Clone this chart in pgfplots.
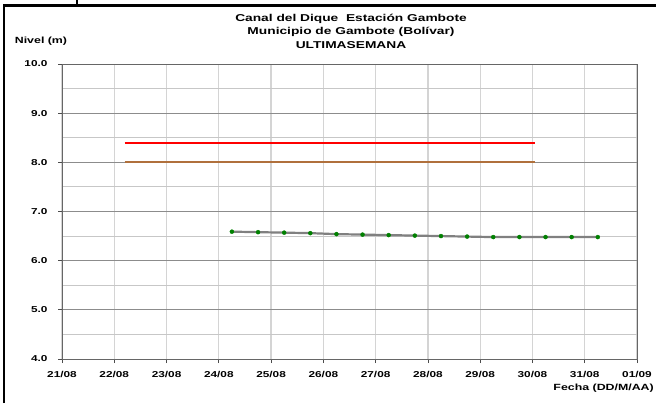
\documentclass[border=0pt]{standalone}
\usepackage{fontspec}
\setmainfont{Liberation Sans}[FakeStretch=1.38]
\usepackage{pgfplots}
\pgfplotsset{compat=1.18}
\definecolor{limitered}{RGB}{255,0,0}
\definecolor{limitebrown}{RGB}{176,112,60}
\definecolor{serie}{RGB}{128,128,128}
\definecolor{punto}{RGB}{0,128,0}
\begin{document}
\begin{tikzpicture}[x=1bp,y=1bp]
\path[use as bounding box] (0,0) rectangle (656,403);
% marco de la figura
\draw[line width=2.5bp] (4,0) -- (4,397.5) -- (656,397.5);
\draw[line width=2bp] (77,397.5) -- (77,403);
\begin{axis}[
  at={(62bp,44bp)}, anchor=south west,
  scale only axis, width=575bp, height=295bp,
  xmin=0, xmax=11, ymin=4, ymax=10,
  xtick={0,...,11},
  xticklabels={21/08,22/08,23/08,24/08,25/08,26/08,27/08,28/08,29/08,30/08,31/08,01/09},
  ytick={4,...,10},
  minor ytick={4.5,5.5,6.5,7.5,8.5,9.5},
  tick align=outside, major tick length=4bp,
  minor tick length=0pt,
  xtick pos=bottom, ytick pos=left,
  xmajorgrids, ymajorgrids, yminorgrids,
  x grid style={black!17, line width=1.2bp},
  y grid style={black!45, line width=1bp},
  minor y grid style={black!22, line width=1bp},
  axis line style={black!60, line width=1bp},
  tick style={black!70, line width=0.8bp},
  /pgf/number format/assume math mode=true,
  yticklabel={\pgfmathprintnumber[fixed,fixed zerofill,precision=1]{\tick}},
  tick label style={font=\fontsize{8.6}{10}\selectfont\bfseries},
  yticklabel style={xshift=-7bp},
  xticklabel style={yshift=-5bp},
]
\addplot[limitered, line width=2bp] coordinates {(1.2,8.4) (9.05,8.4)};
\addplot[limitebrown, line width=2bp] coordinates {(1.2,8.0) (9.05,8.0)};
\addplot[serie, line width=2.2bp, mark=*, mark size=2bp,
  mark options={draw=punto, fill=punto, line width=0.4bp}] coordinates {
  (3.25,6.59) (3.75,6.58) (4.25,6.57) (4.75,6.56) (5.25,6.54)
  (5.75,6.53) (6.25,6.52) (6.75,6.51) (7.25,6.50) (7.75,6.49)
  (8.25,6.48) (8.75,6.48) (9.25,6.48) (9.75,6.48) (10.25,6.48)
};
\end{axis}
\begin{scope}[font=\fontsize{10}{12}\selectfont\bfseries]
\node at (351,384) {Canal del Dique\ \ Estación Gambote};
\node at (351,371) {Municipio de Gambote (Bolívar)};
\node at (351,358) {ULTIMASEMANA};
\end{scope}
\begin{scope}[font=\fontsize{9}{11}\selectfont\bfseries]
\node at (41,362) {Nivel (m)};
\node[anchor=east, inner sep=0pt] at (654,15) {Fecha (DD/M/AA)};
\end{scope}
\end{tikzpicture}
\end{document}
